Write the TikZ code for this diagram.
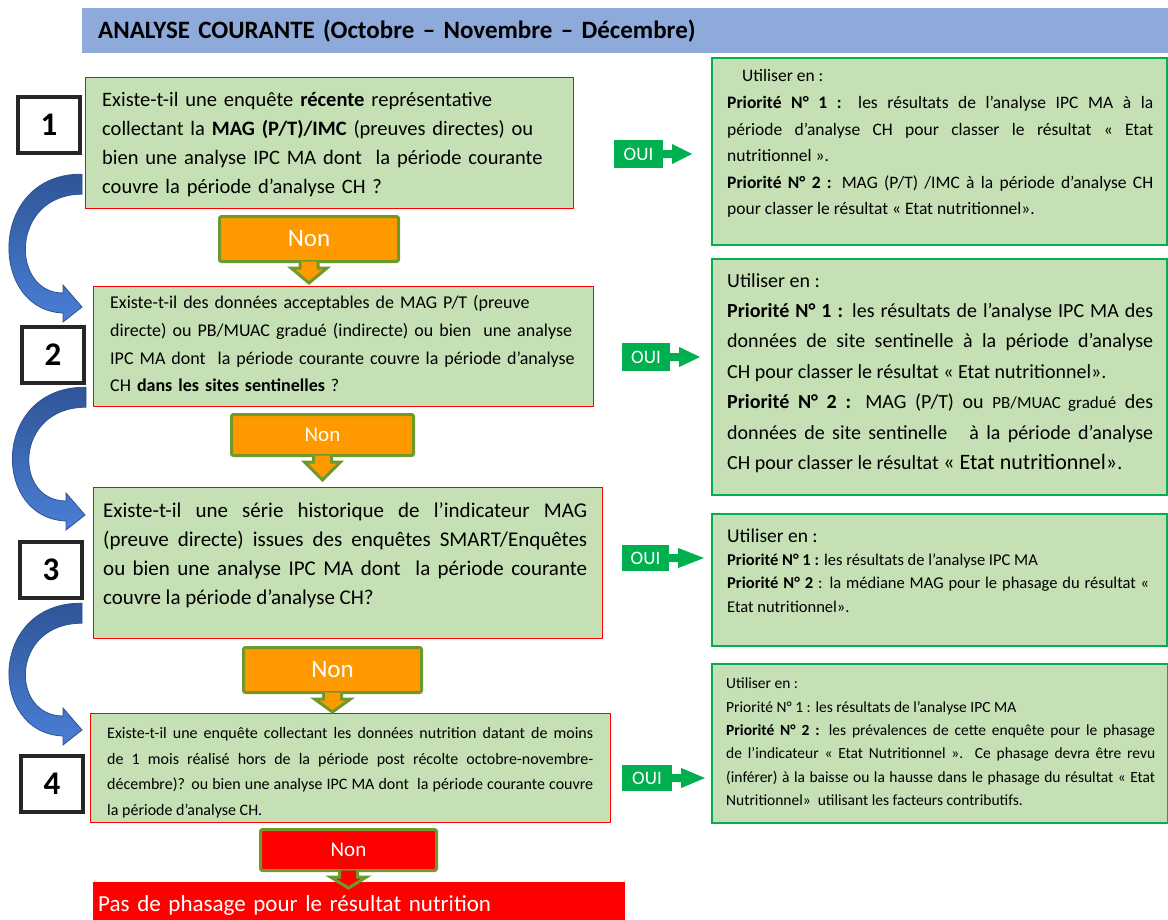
\documentclass[tikz,border=0pt]{standalone}
\usepackage{fontspec}
\setmainfont{Carlito}
\usetikzlibrary{calc, positioning}
\setlength{\parindent}{0pt}
\hyphenpenalty=10000
\exhyphenpenalty=10000

\definecolor{headblue}{HTML}{8EAADB}
\definecolor{boxgreen}{HTML}{C5E0B4}
\definecolor{ouigreen}{HTML}{00B050}
\definecolor{nonorange}{HTML}{FF9900}
\definecolor{nonline}{HTML}{6F9A2B}
\definecolor{bendtop}{HTML}{2F5597}
\definecolor{bendbot}{HTML}{4A7FD6}
\definecolor{bendline}{HTML}{2F528F}

\newcommand{\fsz}[2]{\fontsize{#1}{#2}\selectfont}
% curved blue arrow: start (top of band), tip
\newcommand{\bluebend}[2]{%
  \path[bendarrow] (#1) .. controls ($(#1)+(-94,-1)$) and ($(#2)+(-94,3)$) .. ($(#2)+(-19,6)$)
    -- ($(#2)+(-19,15)$) -- (#2) -- ($(#2)+(-19,-22)$) -- ($(#2)+(-19,-14)$)
    .. controls ($(#2)+(-72,-14)$) and ($(#1)+(-72,20)$) .. ($(#1)+(0,20)$) -- cycle;}
% down arrow under a "Non" box
\newcommand{\nonpoint}[3][nonorange]{%
  \path[nonarrow, fill=#1] ($(#2.south)+(-9,-1.5)$) -- ($(#2.south)+(-9,5)$) -- ($(#2.south)+(-18,5)$) -- (#3)
    -- ($(#2.south)+(18,5)$) -- ($(#2.south)+(9,5)$) -- ($(#2.south)+(9,-1.5)$);}
% right arrow after an "OUI" box
\newcommand{\ouipoint}[2]{%
  \fill[ouigreen] ($(#1.east)+(-1,-4)$) -- ($(#1.east)+(9,-4)$) -- ($(#1.east)+(9,-10)$) -- (#2)
    -- ($(#1.east)+(9,10)$) -- ($(#1.east)+(9,4)$) -- ($(#1.east)+(-1,4)$) -- cycle;}

\begin{document}
\begin{tikzpicture}[x=1pt, y=-1pt,
    header/.style={fill=headblue, anchor=north west, inner xsep=16pt, inner ysep=0pt, text width=1054pt, minimum height=45pt, align=left, font=\bfseries\fsz{25}{25}},
    qbox/.style={draw=red, fill=boxgreen, line width=1.2pt, anchor=north west, inner sep=0pt},
    rbox/.style={draw=ouigreen, fill=boxgreen, line width=1.5pt, anchor=north west, inner sep=0pt},
    qtext/.style={anchor=north west, inner sep=0pt, align=left},
    jtext/.style={anchor=north west, inner sep=0pt, align=justify},
    numbox/.style={draw=black!85, fill=white, line width=3.5pt, minimum width=62pt, minimum height=56pt, inner sep=0pt, font=\bfseries\fsz{33}{33}},
    nonbox/.style={draw=nonline, fill=nonorange, line width=3pt, rounded corners=2pt, anchor=north west, text=white, inner sep=0pt},
    nonarrow/.style={draw=nonline, line width=3pt},
    ouibox/.style={fill=ouigreen, text=white, font=\fsz{19}{19}, inner sep=0pt},
    bendarrow/.style={top color=bendtop, bottom color=bendbot, draw=bendline, line width=0.8pt},
    endbox/.style={fill=red, text=white, anchor=north west, inner xsep=5pt, inner ysep=0pt, text width=522pt, minimum height=46pt, align=left, font=\fsz{23}{23}}
  ]
  \useasboundingbox (0,0) rectangle (1168,919);

  % Header
  \node[header] (head) at (82,8) {ANALYSE COURANTE (Octobre – Novembre – Décembre)};

  % Question boxes
  \node[qbox, minimum width=488pt, minimum height=131pt] (q1) at (85,77) {};
  \node[qbox, minimum width=500pt, minimum height=120pt] (q2) at (93,286) {};
  \node[qbox, minimum width=509pt, minimum height=151pt] (q3) at (93,487) {};
  \node[qbox, minimum width=520pt, minimum height=109pt] (q4) at (90,713) {};

  \node[qtext, text width=462pt, font=\fsz{20.5}{29}] (q1t) at (102,92)
    {Existe-t-il une enquête \textbf{récente} représentative\\
     collectant la \textbf{MAG (P/T)/IMC} (preuves directes) ou\\
     bien une analyse IPC MA dont\ \ la période courante\\
     couvre la période d’analyse CH ?};
  \node[qtext, text width=472pt, font=\fsz{18}{27.6}] (q2t) at (110,295.5)
    {Existe-t-il des données acceptables de MAG P/T (preuve\\
     directe) ou PB/MUAC gradué (indirecte) ou bien\ \ une analyse\\
     IPC MA dont\ \ la période courante couvre la période d’analyse\\
     CH \textbf{dans les sites sentinelles} ?};
  \node[jtext, text width=484pt, font=\fsz{21}{29.3}] (q3t) at (103,502)
    {Existe-t-il une série historique de l’indicateur MAG\linebreak
     (preuve directe) issues des enquêtes SMART/Enquêtes\linebreak
     ou bien une analyse IPC MA dont\ \ la période courante\linebreak
     couvre la période d’analyse CH?};
  \node[jtext, text width=486pt, font=\fsz{16}{25.7}] (q4t) at (107,727)
    {Existe-t-il une enquête collectant les données nutrition datant de moins\linebreak
     de 1 mois réalisé hors de la période post récolte octobre-novembre-\linebreak
     décembre)? ou bien une analyse IPC MA dont\ \ la période courante couvre\linebreak
     la période d’analyse CH.};

  % Step numbers
  \node[numbox] (n1) at (49,125) {1};
  \node[numbox] (n2) at (53,355) {2};
  \node[numbox] (n3) at (51,570) {3};
  \node[numbox] (n4) at (52,784) {4};

  % Curved arrows to the next question
  \coordinate (b1s) at ($(q1.south west)+(-3,-35)$);
  \coordinate (b1t) at ($(q2.north west)+(-11,21)$);
  \coordinate (b2s) at ($(q2.south west)+(-7,-20)$);
  \coordinate (b2t) at ($(q3.north west)+(-8,28)$);
  \coordinate (b3s) at ($(q3.south west)+(-11,-36)$);
  \coordinate (b3t) at ($(q4.north west)+(-8,17)$);
  \bluebend{b1s}{b1t}
  \bluebend{b2s}{b2t}
  \bluebend{b3s}{b3t}

  % Final box
  \node[endbox] (stop) at (93,882) {Pas de phasage pour le résultat nutrition};

  % Non
  \node[nonbox, minimum width=179pt, minimum height=45pt, font=\fsz{25}{25}] (non1) at (218,215) {Non};
  \node[nonbox, minimum width=182pt, minimum height=41pt, font=\fsz{21}{21}] (non2) at (230,413) {Non};
  \node[nonbox, minimum width=178pt, minimum height=45pt, font=\fsz{25}{25}] (non3) at (242,646) {Non};
  \node[nonbox, fill=red, minimum width=176pt, minimum height=41pt, font=\fsz{21}{21}] (non4) at (259,828) {Non};
  \coordinate (non1tip) at ($(non1.south |- q2.north)+(0,-3)$);
  \coordinate (non2tip) at ($(non2.south |- q3.north)+(0,-7)$);
  \coordinate (non3tip) at ($(non3.south |- q4.north)+(0,-1)$);
  \coordinate (non4tip) at ($(non4.south |- stop.north)+(0,6)$);
  \nonpoint{non1}{non1tip}
  \nonpoint{non2}{non2tip}
  \nonpoint{non3}{non3tip}
  \nonpoint[red]{non4}{non4tip}

  % Answer boxes
  \node[rbox, minimum width=455pt, minimum height=187pt] (r1) at (711,57) {};
  \node[rbox, minimum width=455pt, minimum height=236pt] (r2) at (711,258) {};
  \node[rbox, minimum width=455pt, minimum height=132pt] (r3) at (711,513) {};
  \node[rbox, minimum width=456pt, minimum height=159pt] (r4) at (711,663) {};

  \node[jtext, text width=426pt, font=\fsz{17.5}{26.6}] (r1t) at (727,69.5)
    {\hspace*{15pt}Utiliser en :\\
     \textbf{Priorité N° 1 :} les résultats de l’analyse IPC MA à la\linebreak
     période d’analyse CH pour classer le résultat « Etat\linebreak
     nutritionnel ».\\
     \textbf{Priorité N° 2 :} MAG (P/T) /IMC à la période d’analyse CH\linebreak
     pour classer le résultat « Etat nutritionnel».};
  \node[jtext, text width=426pt, font=\fsz{20}{30.4}] (r2t) at (727,273)
    {Utiliser en :\\
     \textbf{Priorité N° 1 :} les résultats de l’analyse IPC MA des\linebreak
     données de site sentinelle à la période d’analyse\linebreak
     CH pour classer le résultat « Etat nutritionnel».\\
     \textbf{Priorité N° 2 :} MAG (P/T) ou {\fsz{17}{30.4}PB/MUAC gradué} des\linebreak
     données de site sentinelle\ \ \ à la période d’analyse\linebreak
     CH pour classer le résultat {\fsz{22}{30.4}« Etat nutritionnel»}.};
  \node[jtext, text width=422pt, font=\fsz{16.5}{23.3}] (r3t) at (727,528.5)
    {{\fsz{19.5}{23.3}Utiliser en :}\\
     \textbf{Priorité N° 1 :} les résultats de l’analyse IPC MA\\
     \textbf{Priorité N° 2} : la médiane MAG pour le phasage du résultat «\linebreak
     Etat nutritionnel».};
  \node[jtext, text width=429pt, font=\fsz{15.5}{23.3}] (r4t) at (726,678)
    {Utiliser en :\\
     Priorité N° 1 : les résultats de l’analyse IPC MA\\
     \textbf{Priorité N° 2 :} les prévalences de cette enquête pour le phasage\linebreak
     de l’indicateur « Etat Nutritionnel ». Ce phasage devra être revu\linebreak
     (inférer) à la baisse ou la hausse dans le phasage du résultat « Etat\linebreak
     Nutritionnel»\ \ utilisant les facteurs contributifs.};

  % OUI
  \node[ouibox, minimum width=49pt, minimum height=28pt] (oui1) at (638.5,154) {OUI};
  \node[ouibox, minimum width=48pt, minimum height=28pt] (oui2) at (646,357) {OUI};
  \node[ouibox, minimum width=47pt, minimum height=26pt] (oui3) at (645.5,558) {OUI};
  \node[ouibox, minimum width=50pt, minimum height=26pt] (oui4) at (647,778) {OUI};
  \coordinate (oui1tip) at ($(oui1.east -| r1.west)+(-19,0)$);
  \coordinate (oui2tip) at ($(oui2.east -| r2.west)+(-11,0)$);
  \coordinate (oui3tip) at ($(oui3.east -| r3.west)+(-7,0)$);
  \coordinate (oui4tip) at ($(oui4.east -| r4.west)+(-6,0)$);
  \ouipoint{oui1}{oui1tip}
  \ouipoint{oui2}{oui2tip}
  \ouipoint{oui3}{oui3tip}
  \ouipoint{oui4}{oui4tip}
\end{tikzpicture}
\end{document}
